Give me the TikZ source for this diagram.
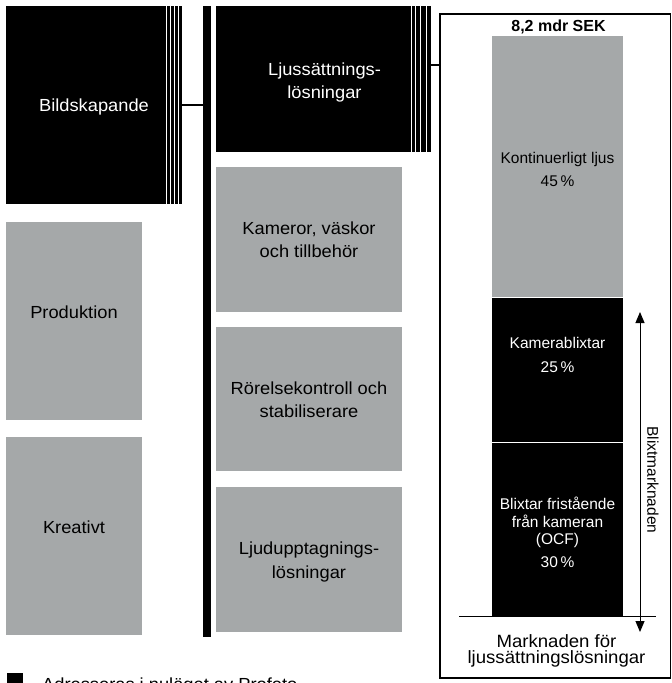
\documentclass[tikz,border=0pt]{standalone}
\usepackage{fontspec}
\setmainfont{Liberation Sans}
\newfontfamily\widesans{Liberation Sans}[FakeStretch=1.045]
\usetikzlibrary{arrows.meta}
\definecolor{boxgray}{RGB}{165,168,169}

\begin{document}
\begin{tikzpicture}[x=1pt,y=-1pt,
  box/.style={inner sep=0pt, outer sep=0pt, anchor=north west, draw=none},
  darkbox/.style={box, fill=black},
  greybox/.style={box, fill=boxgray},
  bigtext/.style={font=\widesans\fontsize{17.5}{23.5}\selectfont, align=center, inner sep=0pt},
  paneltext/.style={font=\fontsize{15.5}{17.5}\selectfont, align=center, inner sep=0pt},
  stripe/.style={white, line width=0.8pt},
  link/.style={line width=2pt},
  tick/.style={{Triangle[length=11pt,width=9pt]}-{Triangle[length=11pt,width=9pt]}, line width=1pt},
]
\useasboundingbox (0,0) rectangle (672,683);

% left column
\node[darkbox, minimum width=176, minimum height=198] (bild) at (6,6) {};
\foreach \s in {166,170,174,178} \draw[stripe] (\s,6) -- (\s,204);
\node[greybox, minimum width=136, minimum height=198] (prod) at (6,222) {};
\node[greybox, minimum width=136, minimum height=198] (krea) at (6,437) {};

% spine
\node[darkbox, minimum width=8, minimum height=631] (bar) at (203,6) {};

% middle column
\node[darkbox, minimum width=215, minimum height=146] (ljus) at (216,6) {};
\foreach \s in {411,415.7,420.7,426} \draw[stripe] (\s,6) -- (\s,152);
\node[greybox, minimum width=186, minimum height=145] (kam) at (216,167) {};
\node[greybox, minimum width=186, minimum height=144] (ror) at (216,327) {};
\node[greybox, minimum width=186, minimum height=145] (ljud) at (216,487) {};

% market panel
\node[box, draw=black, line width=1.3pt, minimum width=230.5, minimum height=664] (frame) at (440,14) {};
\node[greybox, minimum width=130.4, minimum height=260.5] (kont) at (492.3,36) {};
\node[darkbox, minimum width=130.4, minimum height=144.5] (kamb) at (492.3,297.5) {};
\node[darkbox, minimum width=130.4, minimum height=173] (ocf) at (492.3,443) {};

% labels
\node[bigtext, text=white] (tbild) at (94,106.8) {Bildskapande};
\node[bigtext] (tprod) at (74,312.7) {Produktion};
\node[bigtext] (tkrea) at (74,527.7) {Kreativt};
\node[bigtext, text=white] (tljus) at (324.5,82.6) {Ljussättnings-\\lösningar};
\node[bigtext] (tkam) at (309,239.8) {Kameror, väskor\\och tillbehör};
\node[bigtext] (tror) at (309,399.5) {Rörelsekontroll och\\stabiliserare};
\node[bigtext] (tljud) at (309,561.8) {Ljudupptagnings-\\lösningar};

\node[font=\bfseries\fontsize{16}{18}\selectfont, inner sep=0pt] (total) at (558.5,26.5) {8,2 mdr SEK};
\node[paneltext] (tkont) at (557.5,169.5) {Kontinuerligt ljus\\[5.8pt]45\,\%};
\node[paneltext, text=white] (tkamb) at (557.5,355.3) {Kamerablixtar\\[6.2pt]25\,\%};
\node[paneltext, text=white] (tocf) at (557.5,532.6) {Blixtar fristående\\från kameran\\(OCF)\\[5.8pt]30\,\%};
\node[font=\widesans\fontsize{17.8}{16.5}\selectfont, align=center, inner sep=0pt] (tmarket) at (556.5,651) {Marknaden för\\ljussättningslösningar};
\node[paneltext, rotate=-90] (tblixt) at (653,480) {Blixtmarknaden};

% connectors
\draw[link] (bild.east) -- (bild.east -| bar.west);
\coordinate (ljlink) at (431,65);
\draw[link] (ljlink) -- (ljlink -| frame.west);

% market baseline and flash-market span
\coordinate (baseL) at (459,616);
\coordinate (baseR) at (656,616);
\draw[line width=1pt] (baseL) -- (baseR);
\coordinate (spanTop) at (640,312);
\coordinate (spanBot) at (640,632);
\draw[tick] (spanTop) -- (spanBot);

% legend
\node[darkbox, minimum width=16, minimum height=18] (legsq) at (7,672.7) {};
\node[font=\widesans\fontsize{17.5}{20}\selectfont, anchor=base west, inner sep=0pt] (legtxt) at (42,690) {Adresseras i nuläget av Profeto};
\end{tikzpicture}
\end{document}
